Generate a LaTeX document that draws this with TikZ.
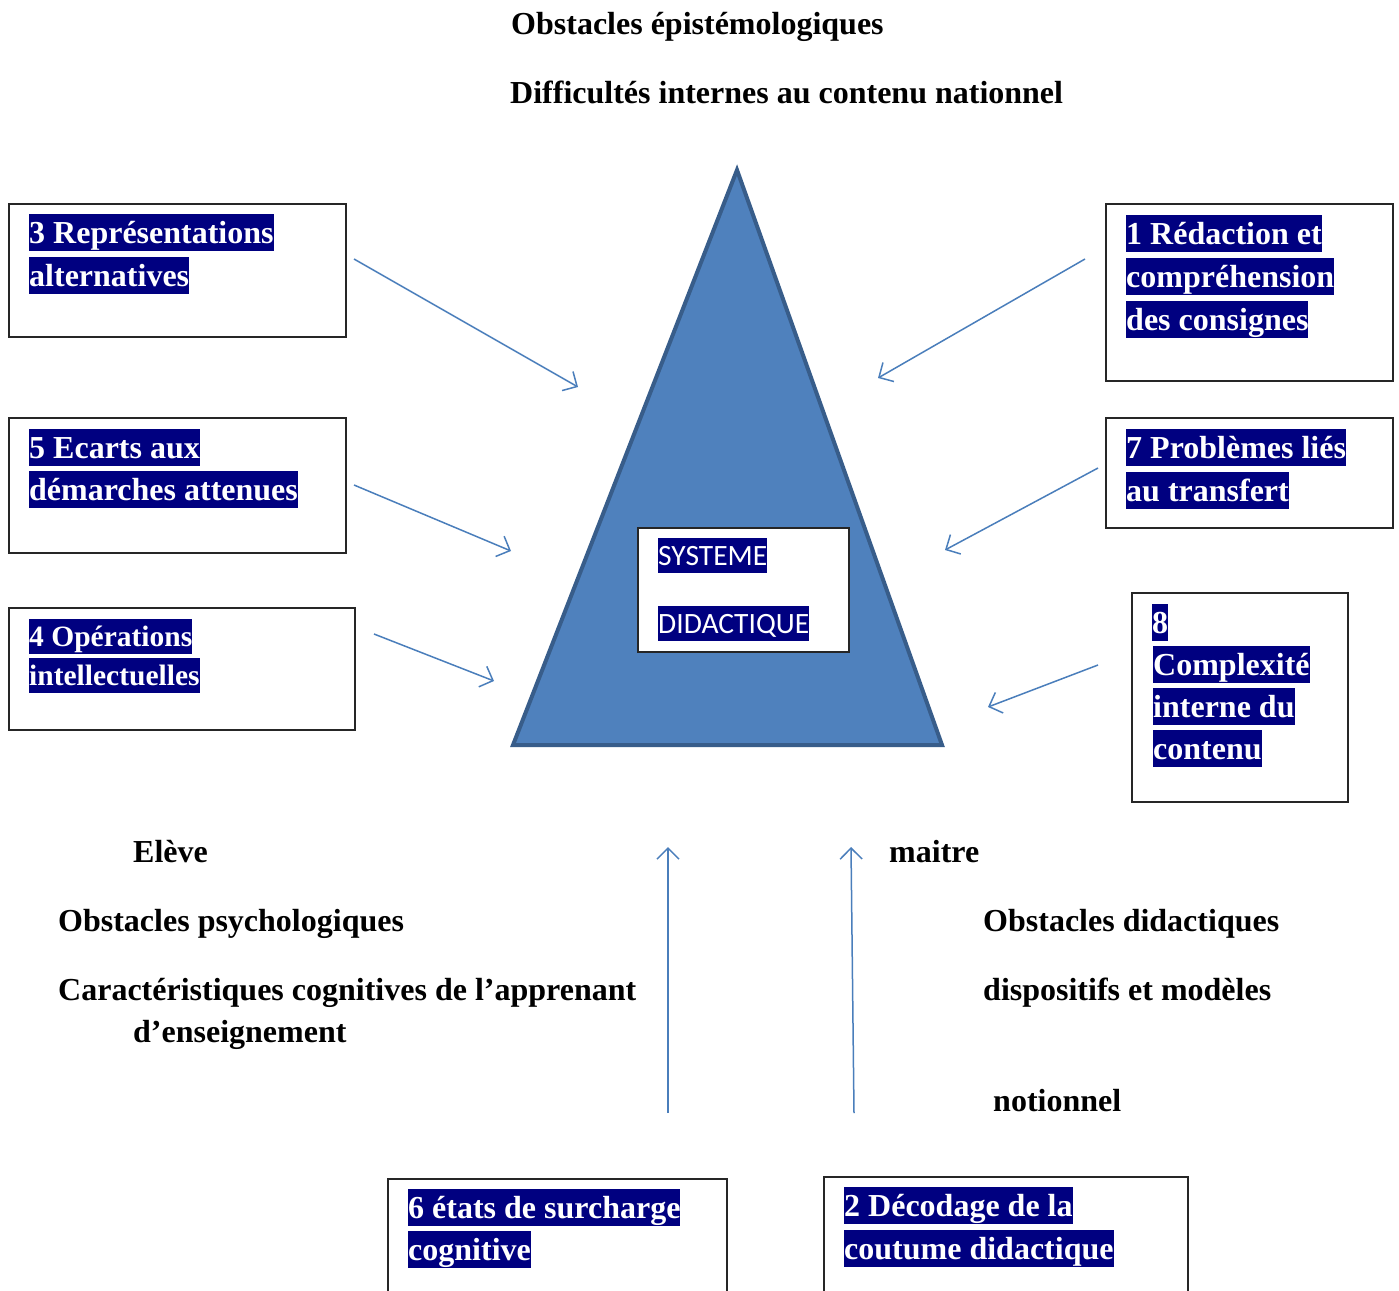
\documentclass[tikz,border=0pt]{standalone}
\usepackage{fontspec}
\setmainfont{Liberation Serif}
\newfontfamily\calib{Carlito}
\usetikzlibrary{arrows.meta}
\definecolor{hlnavy}{RGB}{0,0,128}
\definecolor{trifill}{RGB}{79,129,189}
\definecolor{triline}{RGB}{56,93,138}
\definecolor{arrblue}{RGB}{74,126,187}
\tikzset{
  hl/.style={fill=hlnavy, text=white, inner sep=0pt, anchor=base west,
    text height=29pt, text depth=8pt, font=\fontsize{32}{38}\selectfont\bfseries},
  hlsmall/.style={hl, text height=27pt, text depth=8pt, font=\fontsize{29.5}{35}\selectfont\bfseries},
  hlsans/.style={fill=hlnavy, text=white, inner sep=0pt, anchor=base west,
    text height=27pt, text depth=8pt, font=\fontsize{29.5}{35}\selectfont\calib},
  freetext/.style={inner sep=0pt, anchor=base west, font=\fontsize{32}{38}\selectfont\bfseries},
  frame/.style={draw=black!85, line width=1.5pt, fill=white},
  arr/.style={draw=arrblue, line width=1.5pt, -{Straight Barb[length=11pt,width=22pt,line width=1.5pt]}}
}
\begin{document}
\begin{tikzpicture}[x=1pt,y=-1pt]
\useasboundingbox (0,0) rectangle (1399,1290);
% titles
\node[freetext] (t1) at (511,35) {Obstacles épistémologiques};
\node[freetext] (t2) at (510,103) {Difficultés internes au contenu nationnel};
% triangle
\draw[fill=trifill, draw=triline, line width=4pt, line join=miter] (737,170) -- (942,745) -- (513,745) -- cycle;
% centre box
\draw[frame] (638,528) rectangle (849,652);
\node[hlsans] (sys) at (658,565) {SYSTEME};
\node[hlsans] (did) at (658,633) {DIDACTIQUE};
% boxes
\draw[frame] (9,204) rectangle (346,337);
\node[hl] (b3a) at (29,243) {3 Représentations};
\node[hl] (b3b) at (29,286) {alternatives};
\draw[frame] (9,418) rectangle (346,553);
\node[hl] (b5a) at (29,458) {5 Ecarts aux};
\node[hl] (b5b) at (29,500) {démarches attenues};
\draw[frame] (9,608) rectangle (355,730);
\node[hlsmall] (b4a) at (29,646) {4 Opérations};
\node[hlsmall] (b4b) at (29,685) {intellectuelles};
\draw[frame] (1106,204) rectangle (1393,381);
\node[hl] (b1a) at (1126,244) {1 Rédaction et};
\node[hl] (b1b) at (1126,287) {compréhension};
\node[hl] (b1c) at (1126,330) {des consignes};
\draw[frame] (1106,418) rectangle (1393,528);
\node[hl] (b7a) at (1126,458) {7 Problèmes liés};
\node[hl] (b7b) at (1126,501) {au transfert};
\draw[frame] (1132,593) rectangle (1348,802);
\node[hl] (b8a) at (1152,633) {8};
\node[hl] (b8b) at (1153,675) {Complexité};
\node[hl] (b8c) at (1153,717) {interne du};
\node[hl] (b8d) at (1153,759) {contenu};
\draw[frame] (388,1179) rectangle (727,1300);
\node[hl] (b6a) at (408,1218) {6 états de surcharge};
\node[hl] (b6b) at (408,1260) {cognitive};
\draw[frame] (824,1177) rectangle (1188,1300);
\node[hl] (b2a) at (844,1216) {2 Décodage de la};
\node[hl] (b2b) at (844,1259) {coutume didactique};
% free texts
\node[freetext] (eleve) at (133,862) {Elève};
\node[freetext] (maitre) at (889,862) {maitre};
\node[freetext] (op) at (58,931) {Obstacles psychologiques};
\node[freetext] (od) at (983,931) {Obstacles didactiques};
\node[freetext] (cc) at (58,1000) {Caractéristiques cognitives de l’apprenant};
\node[freetext] (dm) at (983,1000) {dispositifs et modèles};
\node[freetext] (de) at (133,1042) {d’enseignement};
\node[freetext] (no) at (993,1111) {notionnel};
% arrow end points
\coordinate (a3s) at (354,259); \coordinate (a3e) at (578,387);
\coordinate (a5s) at (354,485); \coordinate (a5e) at (511,551);
\coordinate (a4s) at (374,634); \coordinate (a4e) at (494,681);
\coordinate (a1s) at (1085,259); \coordinate (a1e) at (878,378);
\coordinate (a7s) at (1098,468); \coordinate (a7e) at (945,550);
\coordinate (a8s) at (1098,665); \coordinate (a8e) at (988,707);
\coordinate (a6s) at (668,1113); \coordinate (a6e) at (668,847);
\coordinate (a2s) at (854,1113); \coordinate (a2e) at (851,847);
\draw[arr] (a3s) -- (a3e);
\draw[arr] (a5s) -- (a5e);
\draw[arr] (a4s) -- (a4e);
\draw[arr] (a1s) -- (a1e);
\draw[arr] (a7s) -- (a7e);
\draw[arr] (a8s) -- (a8e);
\draw[arr] (a6s) -- (a6e);
\draw[arr] (a2s) -- (a2e);
\end{tikzpicture}
\end{document}
